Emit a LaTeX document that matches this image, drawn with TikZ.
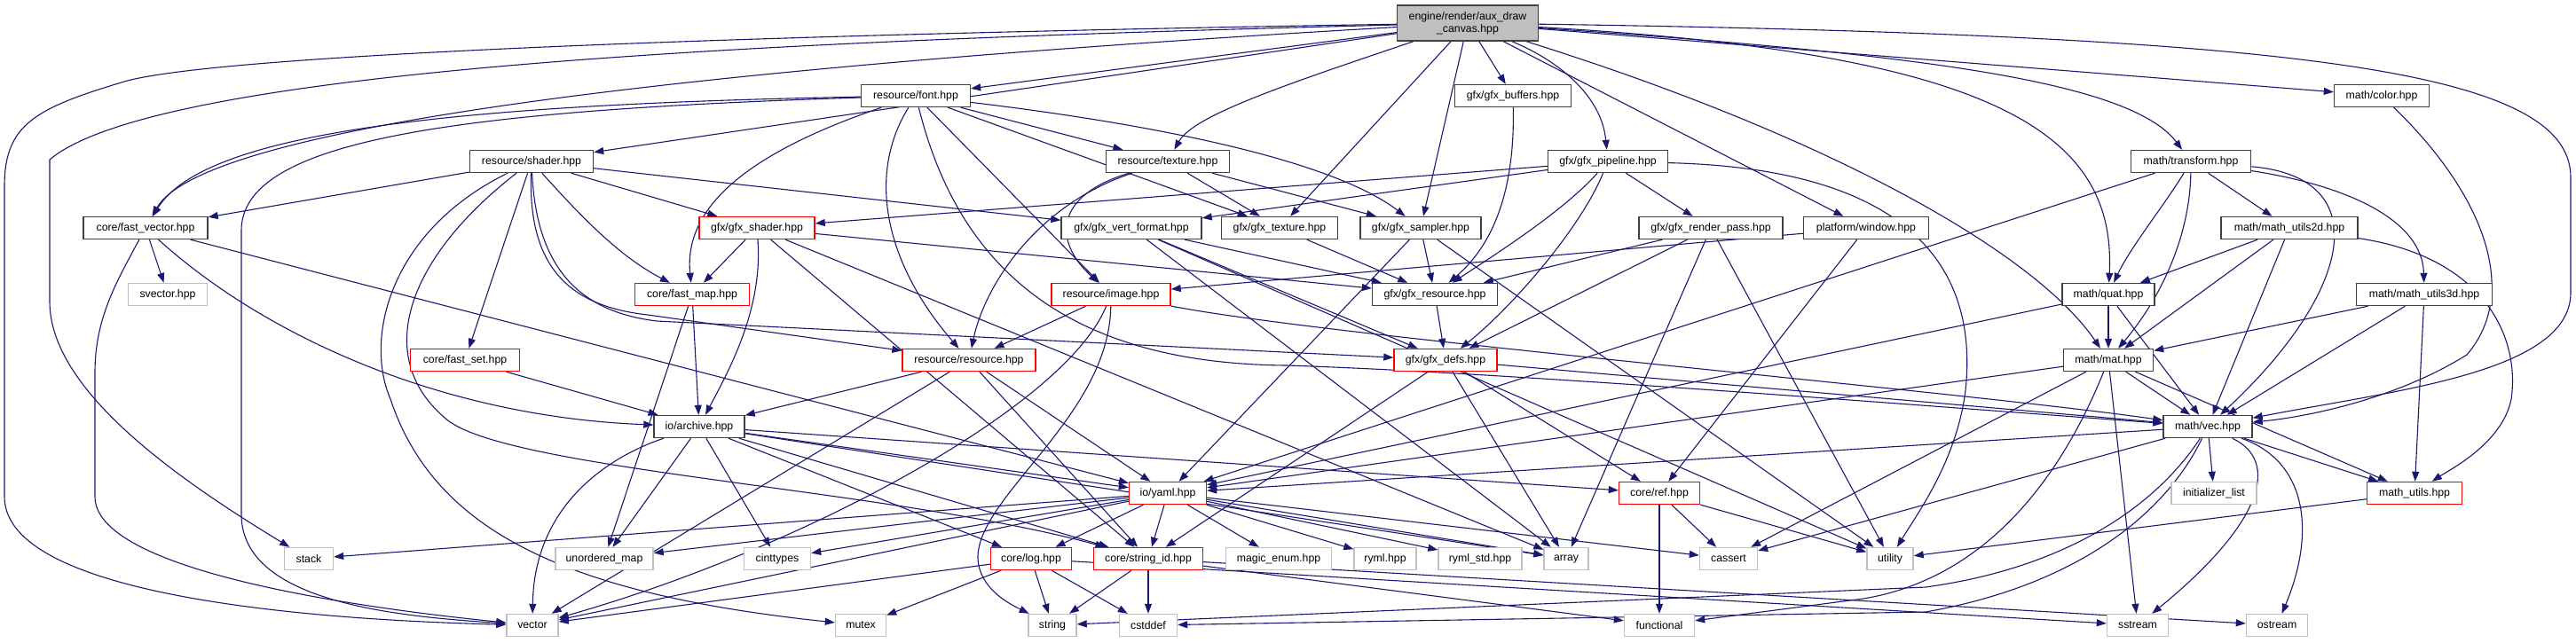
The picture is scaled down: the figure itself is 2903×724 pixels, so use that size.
\documentclass[tikz,border=0pt]{standalone}
\usepackage{fontspec}
\setmainfont{Liberation Sans}
\usetikzlibrary{arrows.meta}
\pgfdeclarelayer{background}
\pgfsetlayers{background,main}
\definecolor{edgec}{HTML}{191970}
\definecolor{sysc}{HTML}{BFBFBF}
\definecolor{boxc}{HTML}{404040}
\definecolor{redc}{HTML}{FF0000}
\begin{document}
\begin{tikzpicture}[x=1pt,y=-1pt,
  nb/.style={draw=boxc,line width=1.4pt,fill=white,inner sep=0pt,minimum height=25pt,font=\fontsize{12.3}{14}\selectfont},
  ns/.style={nb,draw=sysc},
  nr/.style={nb,draw=redc},
  ed/.style={draw=edgec,line width=1.1pt,-{Triangle[length=11pt,width=8pt]}}]
\useasboundingbox (0,0) rectangle (2903,724);
% row 0
\node[nb,fill=sysc,minimum width=159pt,minimum height=40pt,align=center] (root) at (1654,26) {engine/render/aux\_draw\\\_canvas.hpp};
% row 1
\node[nb,minimum width=123pt] (font) at (1032,108) {resource/font.hpp};
\node[nb,minimum width=131pt] (buffers) at (1705,108) {gfx/gfx\_buffers.hpp};
\node[nb,minimum width=107pt] (color) at (2684,108) {math/color.hpp};
% row 2
\node[nb,minimum width=139pt] (shader) at (599,182) {resource/shader.hpp};
\node[nb,minimum width=139pt] (texture) at (1316,182) {resource/texture.hpp};
\node[nb,minimum width=135pt] (pipeline) at (1812,182) {gfx/gfx\_pipeline.hpp};
\node[nb,minimum width=135pt] (transform) at (2469,182) {math/transform.hpp};
% row 3
\node[nb,minimum width=140pt] (fastvector) at (164,257) {core/fast\_vector.hpp};
\node[nr,minimum width=130pt] (gfxshader) at (853,257) {gfx/gfx\_shader.hpp};
\node[nb,minimum width=158pt] (vertformat) at (1275,257) {gfx/gfx\_vert\_format.hpp};
\node[nb,minimum width=131pt] (gfxtexture) at (1442,257) {gfx/gfx\_texture.hpp};
\node[nb,minimum width=136pt] (sampler) at (1601,257) {gfx/gfx\_sampler.hpp};
\node[nb,minimum width=162pt] (renderpass) at (1928,257) {gfx/gfx\_render\_pass.hpp};
\node[nb,minimum width=141pt] (window) at (2103,257) {platform/window.hpp};
\node[nb,minimum width=154pt] (mtwod) at (2580,257) {math/math\_utils2d.hpp};
% row 4
\node[ns,minimum width=89pt] (svector) at (189,332) {svector.hpp};
\node[nr,minimum width=129pt] (fastmap) at (780,332) {core/fast\_map.hpp};
\node[nr,minimum width=134pt] (image) at (1252,332) {resource/image.hpp};
\node[nb,minimum width=141pt] (gfxresource) at (1617,332) {gfx/gfx\_resource.hpp};
\node[nb,minimum width=104pt] (quat) at (2376,332) {math/quat.hpp};
\node[nb,minimum width=153pt] (mthreed) at (2732,332) {math/math\_utils3d.hpp};
% row 5
\node[nr,minimum width=123pt] (fastset) at (524,406) {core/fast\_set.hpp};
\node[nr,minimum width=150pt] (resource) at (1092,406) {resource/resource.hpp};
\node[nr,minimum width=116pt] (gfxdefs) at (1629,406) {gfx/gfx\_defs.hpp};
\node[nb,minimum width=101pt] (mat) at (2376,406) {math/mat.hpp};
% row 6
\node[nb,minimum width=102pt] (archive) at (788,481) {io/archive.hpp};
\node[nb,minimum width=100pt] (vec) at (2488,481) {math/vec.hpp};
% row 7
\node[nr,minimum width=87pt] (yaml) at (1316,556) {io/yaml.hpp};
\node[nr,minimum width=91pt] (ref) at (1870,556) {core/ref.hpp};
\node[ns,minimum width=96pt] (initlist) at (2495,556) {initializer\_list};
\node[nr,minimum width=107pt] (mathutils) at (2721,556) {math\_utils.hpp};
% row 8
\node[ns,minimum width=55pt] (stack) at (348,630) {stack};
\node[ns,minimum width=110pt] (umap) at (681,630) {unordered\_map};
\node[ns,minimum width=75pt] (cinttypes) at (876,630) {cinttypes};
\node[nr,minimum width=91pt] (log) at (1162,630) {core/log.hpp};
\node[nr,minimum width=123pt] (stringid) at (1294,630) {core/string\_id.hpp};
\node[ns,minimum width=119pt] (magicenum) at (1441,630) {magic\_enum.hpp};
\node[ns,minimum width=70pt] (ryml) at (1561,630) {ryml.hpp};
\node[ns,minimum width=94pt] (rymlstd) at (1668,630) {ryml\_std.hpp};
\node[ns,minimum width=50pt] (array) at (1765,630) {array};
\node[ns,minimum width=65pt] (cassert) at (1948,630) {cassert};
\node[ns,minimum width=52pt] (utility) at (2130,630) {utility};
% row 9
\node[ns,minimum width=58pt] (vector) at (600,705) {vector};
\node[ns,minimum width=57pt] (mutex) at (970,705) {mutex};
\node[ns,minimum width=54pt] (string) at (1186,705) {string};
\node[ns,minimum width=65pt] (cstddef) at (1294,705) {cstddef};
\node[ns,minimum width=79pt] (functional) at (1870,705) {functional};
\node[ns,minimum width=69pt] (sstream) at (2409,705) {sstream};
\node[ns,minimum width=69pt] (ostream) at (2566,705) {ostream};

\begin{pgfonlayer}{background}
\fill[white] (0,0) rectangle (2903,724);
% ---- edges: root
\draw[ed] (root) .. controls (900,38) and (250,60) .. (140,92) .. controls (40,122) and (5,140) .. (5,210) -- (5,560) .. controls (5,680) and (400,700) .. (vector);
\draw[ed] (root) .. controls (900,45) and (180,75) .. (56,180) -- (56,340) .. controls (56,440) and (200,540) .. (stack);
\draw[ed] (root) .. controls (800,75) and (230,140) .. (fastvector);
\draw[ed] (root) -- (shader);
\draw[ed] (root) -- (font);
\draw[ed] (root) .. controls (1450,95) and (1345,130) .. (texture);
\draw[ed] (root) -- (gfxtexture);
\draw[ed] (root) -- (sampler);
\draw[ed] (root) -- (buffers);
\draw[ed] (root) .. controls (1760,70) and (1805,110) .. (pipeline);
\draw[ed] (root) -- (window);
\draw[ed] (root) .. controls (2050,150) and (2290,280) .. (mat);
\draw[ed] (root) .. controls (2250,60) and (2385,150) .. (quat);
\draw[ed] (root) .. controls (2150,60) and (2400,90) .. (transform);
\draw[ed] (root) -- (color);
\draw[ed] (root) .. controls (2600,40) and (2897,80) .. (2897,200) -- (2897,330) .. controls (2897,420) and (2700,440) .. (vec);
% font
\draw[ed] (font) .. controls (500,118) and (230,150) .. (fastvector);
\draw[ed] (font) .. controls (500,125) and (272,160) .. (272,260) -- (272,580) .. controls (272,680) and (450,695) .. (vector);
\draw[ed] (font) .. controls (850,170) and (770,230) .. (fastmap);
\draw[ed] (font) .. controls (975,200) and (1000,300) .. (resource);
\draw[ed] (font) -- (image);
\draw[ed] (font) -- (texture);
\draw[ed] (font) -- (gfxtexture);
\draw[ed] (font) .. controls (1300,140) and (1500,180) .. (sampler);
\draw[ed] (font) .. controls (1080,300) and (1200,410) .. (1450,412) .. controls (1700,420) and (2200,460) .. (vec);
% shader
\draw[ed] (shader) -- (fastvector);
\draw[ed] (shader) -- (gfxshader);
\draw[ed] (shader) -- (vertformat);
\draw[ed] (shader) .. controls (660,250) and (700,290) .. (fastmap);
\draw[ed] (shader) -- (fastset);
\draw[ed] (shader) .. controls (595,300) and (640,345) .. (730,355) -- (resource);
\draw[ed] (shader) .. controls (605,310) and (660,352) .. (740,362) -- (gfxdefs);
\draw[ed] (shader) .. controls (440,260) and (410,380) .. (440,450) .. controls (490,600) and (640,670) .. (mutex);
\draw[ed] (shader) .. controls (460,290) and (420,400) .. (500,470) .. controls (560,530) and (1000,550) .. (stringid);
% texture
\draw[ed] (texture) .. controls (1190,220) and (1185,270) .. (image);
\draw[ed] (texture) .. controls (1170,230) and (1110,320) .. (resource);
\draw[ed] (texture) -- (gfxtexture);
\draw[ed] (texture) -- (sampler);
% pipeline
\draw[ed] (pipeline) -- (gfxshader);
\draw[ed] (pipeline) -- (vertformat);
\draw[ed] (pipeline) -- (renderpass);
\draw[ed] (pipeline) .. controls (1760,240) and (1680,290) .. (gfxresource);
\draw[ed] (pipeline) .. controls (1780,260) and (1700,350) .. (gfxdefs);
\draw[ed] (pipeline) .. controls (2150,190) and (2230,300) .. (2215,440) .. controls (2205,520) and (2160,580) .. (utility);
% buffers, color
\draw[ed] (buffers) .. controls (1707,200) and (1690,270) .. (gfxresource);
\draw[ed] (color) .. controls (2800,220) and (2840,330) .. (2780,400) .. controls (2700,450) and (2600,470) .. (vec);
% transform
\draw[ed] (transform) .. controls (2440,230) and (2400,280) .. (quat);
\draw[ed] (transform) .. controls (2468,260) and (2440,330) .. (mat);
\draw[ed] (transform) -- (mtwod);
\draw[ed] (transform) .. controls (2650,210) and (2730,250) .. (mthreed);
\draw[ed] (transform) .. controls (2680,200) and (2650,330) .. (vec);
\draw[ed] (transform) -- (yaml);
% fast_vector
\draw[ed] (fastvector) -- (svector);
\draw[ed] (fastvector) .. controls (130,320) and (107,360) .. (107,420) -- (107,560) .. controls (107,650) and (450,690) .. (vector);
\draw[ed] (fastvector) .. controls (300,380) and (500,470) .. (archive);
\draw[ed] (fastvector) -- (yaml);
% gfx_shader
\draw[ed] (gfxshader) -- (fastmap);
\draw[ed] (gfxshader) .. controls (860,350) and (820,420) .. (archive);
\draw[ed] (gfxshader) -- (stringid);
\draw[ed] (gfxshader) -- (array);
\draw[ed] (gfxshader) -- (gfxresource);
% vert_format
\draw[ed] (vertformat) -- (gfxresource);
\draw[ed] (vertformat) -- (gfxdefs);
\draw[ed] (vertformat) -- (array);
\draw[ed] (vertformat) -- (utility);
% gfx_texture, sampler
\draw[ed] (gfxtexture) -- (gfxresource);
\draw[ed] (sampler) -- (gfxresource);
\draw[ed] (sampler) -- (yaml);
\draw[ed] (sampler) -- (utility);
% render_pass
\draw[ed] (renderpass) -- (gfxresource);
\draw[ed] (renderpass) -- (gfxdefs);
\draw[ed] (renderpass) -- (array);
\draw[ed] (renderpass) -- (utility);
% window
\draw[ed] (window) -- (image);
\draw[ed] (window) -- (ref);
% math_utils2d
\draw[ed] (mtwod) -- (quat);
\draw[ed] (mtwod) -- (mat);
\draw[ed] (mtwod) -- (vec);
\draw[ed] (mtwod) .. controls (2800,290) and (2840,380) .. (2830,450) .. controls (2820,500) and (2760,530) .. (mathutils);
% fast_map
\draw[ed] (fastmap) -- (archive);
\draw[ed] (fastmap) -- (umap);
% image
\draw[ed] (image) -- (resource);
\draw[ed] (image) .. controls (1200,460) and (900,620) .. (vector);
\draw[ed] (image) .. controls (1250,470) and (1100,560) .. (1102,630) .. controls (1104,665) and (1140,682) .. (string);
\draw[ed] (image) .. controls (1500,380) and (2200,440) .. (vec);
% gfx_resource, quat, 3d, fast_set
\draw[ed] (gfxresource) -- (gfxdefs);
\draw[ed] (quat) -- (mat);
\draw[ed] (quat) -- (vec);
\draw[ed] (quat) -- (yaml);
\draw[ed] (mthreed) -- (mat);
\draw[ed] (mthreed) -- (vec);
\draw[ed] (mthreed) -- (mathutils);
\draw[ed] (fastset) -- (archive);
% resource
\draw[ed] (resource) -- (archive);
\draw[ed] (resource) -- (vector);
\draw[ed] (resource) -- (yaml);
\draw[ed] (resource) -- (stringid);
% gfx_defs
\draw[ed] (gfxdefs) -- (stringid);
\draw[ed] (gfxdefs) -- (array);
\draw[ed] (gfxdefs) -- (ref);
\draw[ed] (gfxdefs) -- (vec);
% mat
\draw[ed] (mat) -- (vec);
\draw[ed] (mat) -- (mathutils);
\draw[ed] (mat) -- (sstream);
\draw[ed] (mat) -- (yaml);
\draw[ed] (mat) -- (cassert);
\draw[ed] (mat) .. controls (2330,520) and (2250,650) .. (2100,675) -- (functional);
% archive
\draw[ed] (archive) -- (umap);
\draw[ed] (archive) .. controls (700,510) and (602,560) .. (vector);
\draw[ed] (archive) -- (cinttypes);
\draw[ed] (archive) -- (log);
\draw[ed] (archive) -- (stringid);
\draw[ed] (archive) -- (yaml);
\draw[ed] (archive) -- (ref);
\draw[ed] (archive) -- (array);
% vec
\draw[ed] (vec) -- (yaml);
\draw[ed] (vec) -- (cassert);
\draw[ed] (vec) .. controls (2430,570) and (2330,640) .. (2170,662) -- (string);
\draw[ed] (vec) .. controls (2440,580) and (2340,660) .. (2170,690) -- (cstddef);
\draw[ed] (vec) -- (initlist);
\draw[ed] (vec) .. controls (2570,520) and (2550,590) .. (sstream);
\draw[ed] (vec) -- (mathutils);
\draw[ed] (vec) .. controls (2600,520) and (2610,600) .. (ostream);
\draw[ed] (mathutils) -- (utility);
% yaml
\draw[ed] (yaml) -- (stack);
\draw[ed] (yaml) -- (umap);
\draw[ed] (yaml) -- (cinttypes);
\draw[ed] (yaml) -- (vector);
\draw[ed] (yaml) -- (log);
\draw[ed] (yaml) -- (stringid);
\draw[ed] (yaml) -- (magicenum);
\draw[ed] (yaml) -- (ryml);
\draw[ed] (yaml) -- (rymlstd);
\draw[ed] (yaml) -- (array);
\draw[ed] (yaml) -- (cassert);
% log
\draw[ed] (log) -- (vector);
\draw[ed] (log) -- (mutex);
\draw[ed] (log) -- (string);
\draw[ed] (log) -- (cstddef);
\draw[ed] (log) -- (sstream);
% string_id
\draw[ed] (stringid) -- (string);
\draw[ed] (stringid) -- (cstddef);
\draw[ed] (stringid) -- (functional);
\draw[ed] (stringid) -- (ostream);
% ref
\draw[ed] (ref) -- (functional);
\draw[ed] (ref) -- (cassert);
\draw[ed] (ref) -- (utility);
\end{pgfonlayer}
\end{tikzpicture}
\end{document}
